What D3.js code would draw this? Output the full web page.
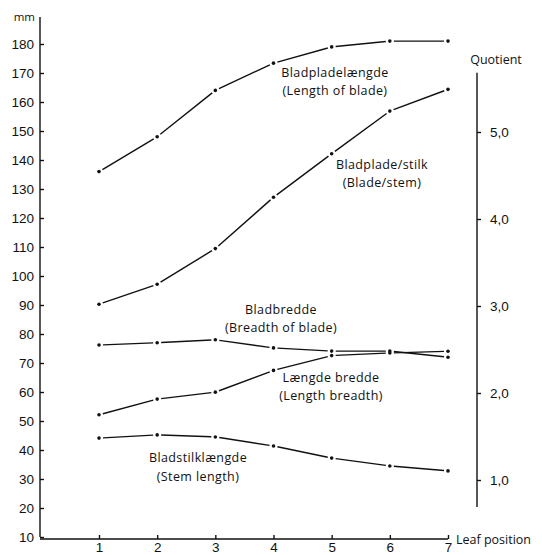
<!DOCTYPE html>
<html>
<head>
<meta charset="utf-8">
<script src="https://cdn.jsdelivr.net/npm/d3@7"></script>
<style>
  body { margin: 0; background: #fff; }
  svg { display: block; font-family: "Open Sans", Lato, sans-serif; }
  .axis text { font-size: 13.5px; fill: #111; }
  .axis line, .axis path { stroke: #111; stroke-width: 1.4; }
  .lbl { font-size: 12.5px; letter-spacing: 0.4px; fill: #111; }
</style>
</head>
<body>
<svg id="chart" width="542" height="555"></svg>
<script>
const leafPositions = [1, 2, 3, 4, 5, 6, 7];
const mmTicks = [10, 20, 30, 40, 50, 60, 70, 80, 90, 100, 110, 120, 130, 140, 150, 160, 170, 180];
const quotientTicks = [1, 2, 3, 4, 5];

// mm series (left axis)
const bladeLength = [136, 148, 164, 173.4, 179, 181, 181];
const bladeBreadth = [76.2, 77, 78, 75.2, 74.1, 74.1, 72];
const stemLength = [44.1, 45.2, 44.5, 41.4, 37.2, 34.5, 32.8];
// quotient series (right axis)
const bladeStem = [3.02, 3.25, 3.66, 4.25, 4.75, 5.24, 5.49];
const lengthBreadth = [1.75, 1.93, 2.01, 2.26, 2.43, 2.46, 2.48];

const svg = d3.select("#chart");

const x = d3.scaleLinear().domain([1, 7]).range([99, 448]);
const yMm = d3.scaleLinear().domain([10, 180]).range([537, 44]);
const yQ = d3.scaleLinear().domain([1, 5]).range([480, 132]);
const axisX = 40;
const rightX = 477;

// left axis
const left = svg.append("g")
  .attr("class", "axis")
  .attr("transform", `translate(${axisX},0)`)
  .call(d3.axisLeft(yMm).tickValues(mmTicks).tickSize(-4).tickSizeOuter(0).tickPadding(6));
left.select(".domain").remove();
left.append("line")
  .attr("y1", yMm(10)).attr("y2", yMm(189.3));
svg.append("text")
  .attr("x", 35).attr("y", 21)
  .attr("text-anchor", "end")
  .attr("font-size", 11.5)
  .attr("fill", "#111")
  .text("mm");

// right axis
const right = svg.append("g")
  .attr("class", "axis")
  .attr("transform", `translate(${rightX},0)`)
  .call(d3.axisRight(yQ).tickValues(quotientTicks).tickSize(4).tickSizeOuter(0).tickPadding(9)
    .tickFormat(d => d3.format(".1f")(d).replace(".", ",")));
right.select(".domain").remove();
right.append("line")
  .attr("y1", yQ(0.69)).attr("y2", yQ(5.68));
svg.append("text")
  .attr("x", 496).attr("y", 64)
  .attr("text-anchor", "middle")
  .attr("font-size", 12.5)
  .attr("fill", "#111")
  .text("Quotient");

// bottom axis
const bottom = svg.append("g")
  .attr("class", "axis")
  .attr("transform", `translate(0,${yMm(10) + 2})`)
  .call(d3.axisBottom(x).tickValues(leafPositions).tickSize(-4).tickSizeOuter(0).tickPadding(3)
    .tickFormat(d3.format("d")));
bottom.select(".domain").remove();
bottom.append("line")
  .attr("x1", axisX).attr("x2", x(7));
svg.append("text")
  .attr("x", 456).attr("y", 544)
  .attr("font-size", 12.5)
  .attr("fill", "#111")
  .text("Leaf position");

// series with gaps around the dots
function drawSeries(values, yScale) {
  const pts = values.map((v, i) => [x(leafPositions[i]), yScale(v)]);
  const g = svg.append("g");
  const gap = 4;
  for (let i = 0; i < pts.length - 1; i++) {
    const [x1, y1] = pts[i], [x2, y2] = pts[i + 1];
    const len = Math.hypot(x2 - x1, y2 - y1);
    const ux = (x2 - x1) / len, uy = (y2 - y1) / len;
    g.append("line")
      .attr("x1", x1 + ux * gap).attr("y1", y1 + uy * gap)
      .attr("x2", x2 - ux * gap).attr("y2", y2 - uy * gap)
      .attr("stroke", "#111")
      .attr("stroke-width", 1.4);
  }
  g.selectAll("circle")
    .data(pts)
    .join("circle")
    .attr("cx", d => d[0]).attr("cy", d => d[1])
    .attr("r", 1.8)
    .attr("fill", "#111");
}

drawSeries(bladeLength, yMm);
drawSeries(bladeStem, yQ);
drawSeries(bladeBreadth, yMm);
drawSeries(lengthBreadth, yQ);
drawSeries(stemLength, yMm);

// series labels
const labels = [
  ["Bladpladelængde", "(Length of blade)", 335, 77, 95],
  ["Bladplade/stilk", "(Blade/stem)", 382, 169, 187],
  ["Bladbredde", "(Breadth of blade)", 281, 314, 332],
  ["Længde bredde", "(Length breadth)", 331, 382, 400],
  ["Bladstilklængde", "(Stem length)", 198, 462, 481]
];
labels.forEach(([a, b, cx, y1, y2]) => {
  const t = svg.append("text").attr("class", "lbl").attr("text-anchor", "middle");
  t.append("tspan").attr("x", cx).attr("y", y1).text(a);
  t.append("tspan").attr("x", cx).attr("y", y2).text(b);
});
</script>
</body>
</html>
